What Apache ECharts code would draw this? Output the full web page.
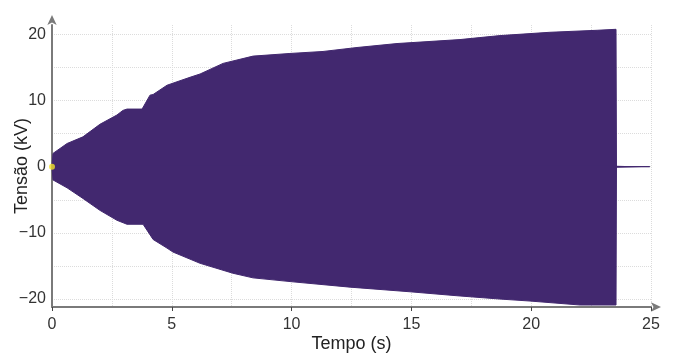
<!DOCTYPE html>
<html>
<head>
<meta charset="utf-8">
<script src="https://cdn.jsdelivr.net/npm/echarts@6/dist/echarts.min.js"></script>
<style>
  html, body { margin: 0; padding: 0; background: #fff; }
  #chart { width: 675px; height: 353px; }
</style>
</head>
<body>
<div id="chart"></div>
<script>
// envelope of the voltage signal
const timeUpper = [0, 0.04, 0.63, 1.29, 2.0, 2.71, 2.96, 3.13, 3.76, 4.09, 4.22, 4.8, 5.76, 6.18, 7.14, 8.39, 9.93, 11.31, 12.73, 14.4, 17.03, 17.86, 18.7, 20.78, 22.75, 23.54, 23.56, 24.95];
const upperKV = [0, 2.0, 3.5, 4.5, 6.4, 7.8, 8.5, 8.7, 8.7, 10.8, 10.9, 12.3, 13.5, 14.0, 15.6, 16.7, 17.1, 17.4, 18.0, 18.6, 19.2, 19.5, 19.8, 20.3, 20.6, 20.75, 0, 0];

const timeLower = [0, 0.04, 0.63, 1.29, 2.0, 2.71, 3.13, 3.8, 4.22, 4.8, 5.05, 6.18, 7.55, 8.39, 10.06, 12.44, 14.94, 16.9, 18.7, 19.95, 22.04, 23.54, 23.56, 24.95];
const lowerKV = [0, -2.0, -3.2, -4.8, -6.6, -8.1, -8.7, -8.7, -11.0, -12.3, -12.9, -14.6, -16.1, -16.8, -17.4, -18.2, -18.9, -19.5, -20.0, -20.3, -20.9, -20.9, 0, 0];

const xTicks = [0, 5, 10, 15, 20, 25];
const yTicks = [-20, -10, 0, 10, 20];
const yGrid = [-20, -15, -10, -5, 0, 5, 10, 15, 20];

const fill = '#42286f';
const axisGray = '#7a7a7a';
const font = 'Liberation Sans, Arial, sans-serif';

const chart = echarts.init(document.getElementById('chart'));

const zip = (xs, ys) => xs.map((x, i) => [x, ys[i]]);
const minus = v => String(v).replace('-', '\u2212');

chart.setOption({
    animation: false,
    backgroundColor: '#fff',
    grid: { left: 52, right: 24, top: 25, bottom: 46, outerBoundsMode: 'none' },
    xAxis: [
        {
            type: 'value', min: 0, max: 25, interval: 5,
            name: 'Tempo (s)', nameLocation: 'middle', nameGap: 28, nameMoveOverlap: false,
            nameTextStyle: { color: '#222', fontSize: 18, fontFamily: font },
            axisLine: { onZero: false, symbol: ['none', 'arrow'], symbolSize: [7, 10], symbolOffset: [0, 10],
                lineStyle: { color: axisGray, width: 2 } },
            axisTick: { length: 4, lineStyle: { color: '#444' } },
            axisLabel: { color: '#333', fontSize: 16, fontFamily: font, margin: 10 },
            splitLine: { show: false }
        },
        {
            type: 'value', min: 0, max: 25, interval: 2.5, position: 'bottom',
            axisLine: { show: false }, axisTick: { show: false }, axisLabel: { show: false },
            splitLine: { show: true, lineStyle: { color: '#dcdcdc', type: 'dotted', width: 1 } }
        }
    ],
    yAxis: [
        {
            type: 'value', min: -21.2, max: 21.4,
            name: 'Tensão (kV)', nameLocation: 'middle', nameGap: 21, nameMoveOverlap: false,
            nameTextStyle: { color: '#222', fontSize: 18, fontFamily: font },
            axisLine: { show: true, onZero: false, symbol: ['none', 'arrow'], symbolSize: [7, 10], symbolOffset: [0, 10],
                lineStyle: { color: axisGray, width: 2 } },
            axisTick: { show: false, customValues: yTicks },
            axisLabel: { color: '#333', fontSize: 16, fontFamily: font, margin: 6, customValues: yTicks, formatter: minus },
            splitLine: { show: false }
        },
        {
            type: 'value', min: -21.2, max: 21.4, position: 'left',
            axisLine: { show: false }, axisLabel: { show: false },
            axisTick: { show: false, customValues: yGrid },
            splitLine: { show: true, lineStyle: { color: '#dcdcdc', type: 'dotted', width: 1 } }
        }
    ],
    series: [
        {
            name: 'upper', type: 'line', xAxisIndex: 0, yAxisIndex: 0,
            data: zip(timeUpper, upperKV), showSymbol: false, z: 3,
            lineStyle: { color: fill, width: 1 },
            areaStyle: { color: fill, opacity: 1, origin: -0.15 }
        },
        {
            name: 'lower', type: 'line', xAxisIndex: 0, yAxisIndex: 0,
            data: zip(timeLower, lowerKV), showSymbol: false, z: 3,
            lineStyle: { color: fill, width: 1 },
            areaStyle: { color: fill, opacity: 1, origin: 0.15 }
        },
        {
            name: 'start', type: 'scatter', xAxisIndex: 0, yAxisIndex: 0,
            data: [[0, 0]], symbolSize: 6, z: 4,
            itemStyle: { color: '#f2e22a' }
        }
    ]
});
</script>
</body>
</html>
